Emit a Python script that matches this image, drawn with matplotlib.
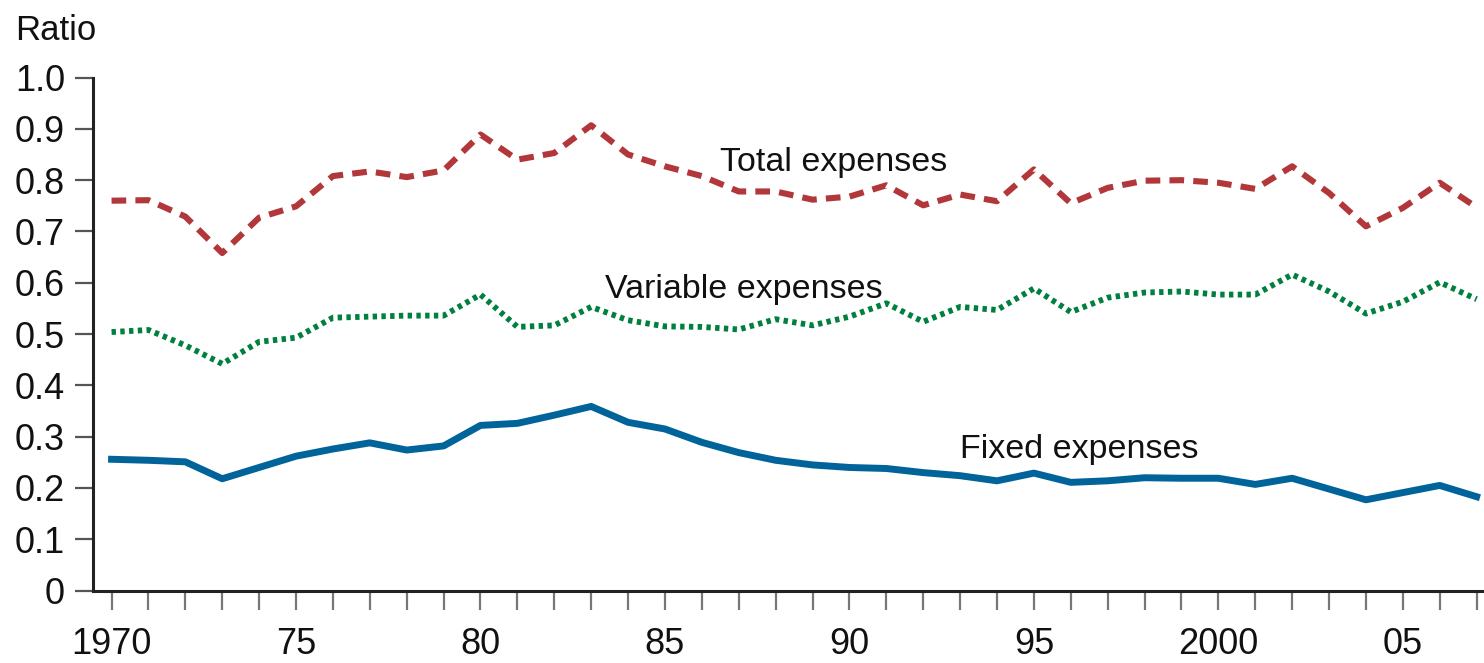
import matplotlib
matplotlib.use("Agg")
import matplotlib.pyplot as plt
from matplotlib.ticker import MultipleLocator, FixedLocator

years = list(range(1970, 2008))
total = [0.760, 0.761, 0.729, 0.658, 0.727, 0.749, 0.808, 0.817, 0.806, 0.819,
         0.889, 0.840, 0.853, 0.907, 0.850, 0.827, 0.808, 0.778, 0.778, 0.762,
         0.768, 0.790, 0.751, 0.772, 0.759, 0.821, 0.755, 0.785, 0.799, 0.800,
         0.795, 0.783, 0.827, 0.775, 0.710, 0.746, 0.795, 0.747]
variable = [0.504, 0.508, 0.478, 0.442, 0.485, 0.493, 0.532, 0.534, 0.536, 0.536,
            0.577, 0.514, 0.517, 0.553, 0.527, 0.515, 0.514, 0.509, 0.529, 0.517,
            0.534, 0.560, 0.524, 0.553, 0.547, 0.589, 0.543, 0.571, 0.581, 0.583,
            0.577, 0.577, 0.616, 0.583, 0.540, 0.563, 0.601, 0.568]
fixed = [0.256, 0.254, 0.251, 0.218, 0.240, 0.262, 0.276, 0.288, 0.274, 0.282,
         0.322, 0.326, 0.342, 0.359, 0.328, 0.315, 0.289, 0.269, 0.254, 0.245,
         0.240, 0.238, 0.230, 0.224, 0.214, 0.229, 0.211, 0.214, 0.220, 0.219,
         0.219, 0.207, 0.219, 0.198, 0.177, 0.191, 0.205, 0.183]

y_ticks = [0, 0.1, 0.2, 0.3, 0.4, 0.5, 0.6, 0.7, 0.8, 0.9, 1.0]
y_tick_labels = ["0", "0.1", "0.2", "0.3", "0.4", "0.5", "0.6", "0.7", "0.8", "0.9", "1.0"]
x_major = [1970, 1975, 1980, 1985, 1990, 1995, 2000, 2005]
x_major_labels = ["1970", "75", "80", "85", "90", "95", "2000", "05"]

plt.rcParams['font.family'] = ['Liberation Sans', 'DejaVu Sans']

fig = plt.figure(figsize=(14.84, 6.63), dpi=100)
ax = fig.add_axes([0.0625, 0.1092, 0.9375, 0.7738])

c_total = "#b2373b"
c_var = "#00803f"
c_fixed = "#00649b"

ax.plot(years, total, color=c_total, lw=4.4, dashes=(2.4, 1.5), dash_capstyle='butt')
ax.plot(years, variable, color=c_var, lw=4.2, dashes=(0.75, 0.75), dash_capstyle='butt')
ax.plot(years, fixed, color=c_fixed, lw=5.0)

ax.set_xlim(1969.49, 2007.2)
ax.set_ylim(0, 1.0)

ax.set_yticks(y_ticks)
ax.set_yticklabels(y_tick_labels)
ax.xaxis.set_major_locator(FixedLocator(x_major))
ax.set_xticklabels(x_major_labels)
ax.xaxis.set_minor_locator(MultipleLocator(1))

for s in ["top", "right"]:
    ax.spines[s].set_visible(False)
for s in ["left", "bottom"]:
    ax.spines[s].set_linewidth(2.2)
    ax.spines[s].set_color("#222222")

ax.tick_params(axis='y', direction='out', length=13, width=1.6, color="#555555",
               labelsize=26, pad=7, labelcolor="#111111")
ax.tick_params(axis='x', which='both', direction='out', length=14, width=1.6,
               color="#777777", labelsize=26, pad=12, labelcolor="#111111")
ax.tick_params(axis='x', which='minor', labelbottom=False)

ax.text(1986.49, 0.817, "Total expenses", fontsize=24.5, color="#111111", va='baseline', ha='left')
ax.text(1983.37, 0.570, "Variable expenses", fontsize=24.5, color="#111111", va='baseline', ha='left')
ax.text(1992.99, 0.258, "Fixed expenses", fontsize=24.5, color="#111111", va='baseline', ha='left')
fig.text(15 / 1484, 1 - 40 / 663, "Ratio", fontsize=25, color="#111111", va='baseline', ha='left')

fig.savefig("out.png", dpi=100)
